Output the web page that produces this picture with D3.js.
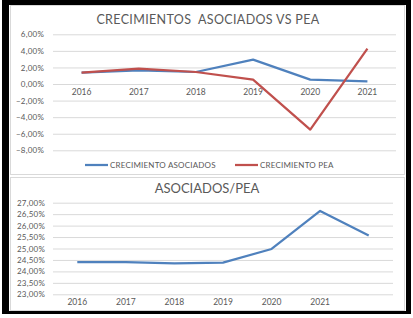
<!DOCTYPE html>
<html><head><meta charset="utf-8">
<script src="https://cdn.jsdelivr.net/npm/d3@7"></script>
<style>
html,body{margin:0;padding:0;background:#fff;}
svg{display:block;}
text{font-family:Lato,"Open Sans",sans-serif;fill:#595959;}
</style></head>
<body>
<svg id="c" width="413" height="318"></svg>
<script>
const years = ["2016","2017","2018","2019","2020","2021"];
const crecAsociados = [1.37, 1.65, 1.45, 2.95, 0.53, 0.33];
const crecPEA = [1.37, 1.87, 1.45, 0.53, -5.5, 4.27];
const topTicks = [6,4,2,0,-2,-4,-6,-8];
const ratioCats = ["2016","2017","2018","2019","2020","2021",""];
const ratioValues = [24.41, 24.41, 24.35, 24.38, 24.98, 26.64, 25.57];
const bottomTicks = [27,26.5,26,25.5,25,24.5,24,23.5,23];

const fmt = v => d3.format(".2f")(v).replace(".", ",") + "%";
const svg = d3.select("#c");

// frame
svg.append("rect").attr("x",0).attr("y",0).attr("width",413).attr("height",318).attr("fill","#fff");
svg.append("rect").attr("x",2).attr("y",0).attr("width",409).attr("height",314).attr("fill","#000");
svg.append("rect").attr("x",9).attr("y",5).attr("width",397).attr("height",306).attr("fill","#fff");
// panels
svg.append("rect").attr("x",10.5).attr("y",5.5).attr("width",394).attr("height",169).attr("fill","#fff").attr("stroke","#D9D9D9");
svg.append("rect").attr("x",10.5).attr("y",177.5).attr("width",394).attr("height",133).attr("fill","#fff").attr("stroke","#D9D9D9");

// ---------- top chart ----------
const x1 = d3.scaleBand().domain(years).range([53,396]);
const y1 = d3.scaleLinear().domain([-8,6]).range([150.3,34.3]);
const g1 = svg.append("g");
g1.append("text").attr("x",208).attr("y",23.5).attr("text-anchor","middle")
  .attr("font-size",12.5).attr("letter-spacing",0.35).style("white-space","pre").text("CRECIMIENTOS  ASOCIADOS VS PEA");
const ax1 = d3.axisLeft(y1).tickValues(topTicks).tickSize(-(396-53)).tickFormat(fmt).tickPadding(8);
const ga1 = g1.append("g").attr("transform","translate(53,0)").call(ax1);
ga1.select(".domain").remove();
ga1.selectAll(".tick line").attr("stroke","#D9D9D9").attr("stroke-width",1);
ga1.selectAll(".tick text").attr("font-size",8).attr("letter-spacing",0.2).attr("fill","#595959").attr("x",-9);
const axX1 = d3.axisBottom(x1).tickSize(0).tickPadding(5);
const gx1 = g1.append("g").attr("transform",`translate(0,${y1(0)})`).call(axX1);
gx1.select(".domain").remove();
gx1.selectAll(".tick text").attr("font-size",8.5).attr("fill","#404040");
const line1 = d3.line().x((d,i)=>x1(years[i])+x1.bandwidth()/2).y(d=>y1(d));
g1.append("path").datum(crecAsociados).attr("d",line1).attr("fill","none").attr("stroke","#4F81BD").attr("stroke-width",2.25).attr("stroke-linejoin","round");
g1.append("path").datum(crecPEA).attr("d",line1).attr("fill","none").attr("stroke","#C0504D").attr("stroke-width",2.25).attr("stroke-linejoin","round");
// legend
const leg = [{n:"CRECIMIENTO ASOCIADOS",c:"#4F81BD",x:85},{n:"CRECIMIENTO PEA",c:"#C0504D",x:235}];
leg.forEach(l=>{
  g1.append("line").attr("x1",l.x).attr("x2",l.x+23).attr("y1",165).attr("y2",165).attr("stroke",l.c).attr("stroke-width",2.25);
  g1.append("text").attr("x",l.x+25).attr("y",168).attr("font-size",8).attr("letter-spacing",0.2).text(l.n);
});

// ---------- bottom chart ----------
const x2 = d3.scaleBand().domain(ratioCats).range([53,393]);
const y2 = d3.scaleLinear().domain([23,27]).range([294.3,202.7]);
const g2 = svg.append("g");
g2.append("text").attr("x",207).attr("y",193).attr("text-anchor","middle")
  .attr("font-size",13).text("ASOCIADOS/PEA");
const ax2 = d3.axisLeft(y2).tickValues(bottomTicks).tickSize(-(393-53)).tickFormat(fmt).tickPadding(8);
const ga2 = g2.append("g").attr("transform","translate(53,0)").call(ax2);
ga2.select(".domain").remove();
ga2.selectAll(".tick line").attr("stroke","#D9D9D9").attr("stroke-width",1);
ga2.selectAll(".tick text").attr("font-size",8).attr("letter-spacing",0.2).attr("fill","#595959").attr("x",-8);
const axX2 = d3.axisBottom(x2).tickSize(0).tickPadding(5);
const gx2 = g2.append("g").attr("transform",`translate(0,${y2(23)})`).call(axX2);
gx2.select(".domain").remove();
gx2.selectAll(".tick text").attr("font-size",8.5).attr("fill","#404040");
const line2 = d3.line().x((d,i)=>x2(ratioCats[i])+x2.bandwidth()/2).y(d=>y2(d));
g2.append("path").datum(ratioValues).attr("d",line2).attr("fill","none").attr("stroke","#4F81BD").attr("stroke-width",2.25).attr("stroke-linejoin","round");
</script>
</body></html>
